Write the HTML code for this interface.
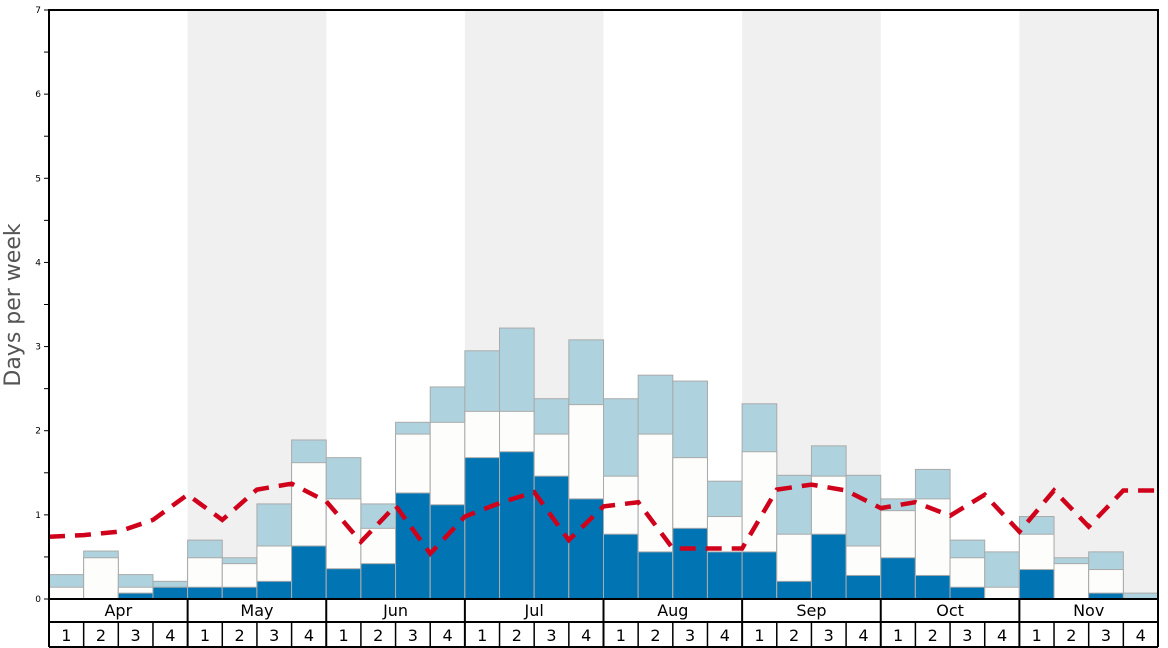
<!DOCTYPE html>
<html><head><meta charset="utf-8"><style>
html,body{margin:0;padding:0;background:#fff;}
svg{display:block;font-family:"DejaVu Sans","Liberation Sans",sans-serif;}
</style></head><body>
<svg id="chart" width="1168" height="648" xmlns="http://www.w3.org/2000/svg">
<g id="bg"></g><g id="bars"></g><g id="line"></g><g id="axes"></g>
</svg>
<script>
const months = ["Apr","May","Jun","Jul","Aug","Sep","Oct","Nov"];
const weekLabels = ["1","2","3","4"];
const yTicks = [0,1,2,3,4,5,6,7];
const darkVals = [0,0,0.07,0.14, 0.14,0.14,0.21,0.63, 0.36,0.42,1.26,1.12, 1.68,1.75,1.46,1.19, 0.77,0.56,0.84,0.56, 0.56,0.21,0.77,0.28, 0.49,0.28,0.14,0, 0.35,0,0.07,0];
const whiteTops = [0.14,0.49,0.14,0.14, 0.49,0.42,0.63,1.62, 1.19,0.84,1.96,2.10, 2.23,2.23,1.96,2.31, 1.46,1.96,1.68,0.98, 1.75,0.77,1.46,0.63, 1.05,1.19,0.49,0.14, 0.77,0.42,0.35,0];
const lightTops = [0.29,0.57,0.29,0.21, 0.70,0.49,1.13,1.89, 1.68,1.13,2.10,2.52, 2.95,3.22,2.38,3.08, 2.38,2.66,2.59,1.40, 2.32,1.47,1.82,1.47, 1.19,1.54,0.70,0.56, 0.98,0.49,0.56,0.07];
const lineVals = [0.74,0.76,0.80,0.94,1.24,0.94,1.30,1.37,1.16,0.68,1.11,0.54,0.98,1.14,1.27,0.70,1.10,1.15,0.60,0.60,0.60,1.30,1.36,1.29,1.08,1.15,0.99,1.24,0.80,1.29,0.86,1.29,1.29];

const X0=49,X1=1158,Y0=599,YT=10,YMAX=7;
const nW=darkVals.length, wW=(X1-X0)/nW;
const xs=i=>X0+i*wW;
const ys=v=>Y0-(Y0-YT)*v/YMAX;
const NS="http://www.w3.org/2000/svg";
function mk(parent,tag,attrs){const e=document.createElementNS(NS,tag);for(const k in attrs)e.setAttribute(k,attrs[k]);document.getElementById(parent).appendChild(e);return e;}

// month shading
months.forEach((m,mi)=>{
  if(mi%2===1){
    const r=mk('bg','rect',{x:xs(mi*4),y:YT,width:wW*4,height:Y0-YT,fill:'#f0f0f0'});
    
    
  }
});
// bars
for(let i=0;i<nW;i++){
  const segs=[[lightTops[i],0,'#aed3df'],[whiteTops[i],0,'#fdfdfb'],[darkVals[i],0,'#0174b4']];
  const names=['bar-light-','bar-white-','bar-dark-'];
  segs.forEach((s,j)=>{
    if(s[0]<=0)return;
    const r=mk('bars','rect',{x:xs(i),y:ys(s[0]),width:wW,height:Y0-ys(s[0]),fill:s[2],stroke:'#aaaaaa','stroke-width':1});
    
    
  });
}
// line
const pts=lineVals.map((v,k)=>xs(k).toFixed(1)+','+ys(v).toFixed(1)).join(' ');
const pl=mk('line','polyline',{points:pts,fill:'none',stroke:'#d0021b','stroke-width':4.5,'stroke-dasharray':'16,10'});



// axes frame
const fr=mk('axes','rect',{x:X0,y:YT,width:X1-X0,height:Y0-YT,fill:'none',stroke:'#000','stroke-width':2});


// y ticks
yTicks.forEach(t=>{
  const l=mk('axes','line',{x1:X0-5,x2:X0,y1:ys(t),y2:ys(t),stroke:'#000','stroke-width':1});
  
  
  const tx=mk('axes','text',{x:X0-8,y:ys(t)+3,'font-size':9,'text-anchor':'end',fill:'#000'});
  tx.textContent=t;
  
  
  if(t<YMAX){
    const m=mk('axes','line',{x1:X0-5,x2:X0,y1:ys(t+0.5),y2:ys(t+0.5),stroke:'#000','stroke-width':1});
    
    
  }
});
const yt=mk('axes','text',{x:20,y:305,'font-size':22,'text-anchor':'middle',fill:'#555',transform:'rotate(-90 20 305)'});
yt.textContent='Days per week';


// x axis rows
const hl=mk('axes','line',{x1:X0,x2:X1,y1:622,y2:622,stroke:'#000','stroke-width':2});


const hb=mk('axes','line',{x1:X0,x2:X1,y1:647,y2:647,stroke:'#000','stroke-width':2});


for(let k=0;k<=nW;k++){
  const isM=k%4===0;
  const v=mk('axes','line',{x1:xs(k),x2:xs(k),y1:isM?Y0:622,y2:647,stroke:'#000','stroke-width':isM?2:1.5});
  
  
}
months.forEach((m,mi)=>{
  const t=mk('axes','text',{x:xs(mi*4+2),y:616,'font-size':16,'text-anchor':'middle',fill:'#000'});
  t.textContent=m;
  
  
  weekLabels.forEach((w,wi)=>{
    const t2=mk('axes','text',{x:xs(mi*4+wi+0.5),y:641,'font-size':16,'text-anchor':'middle',fill:'#000'});
    t2.textContent=w;
    
    
  });
});
</script>
</body></html>
